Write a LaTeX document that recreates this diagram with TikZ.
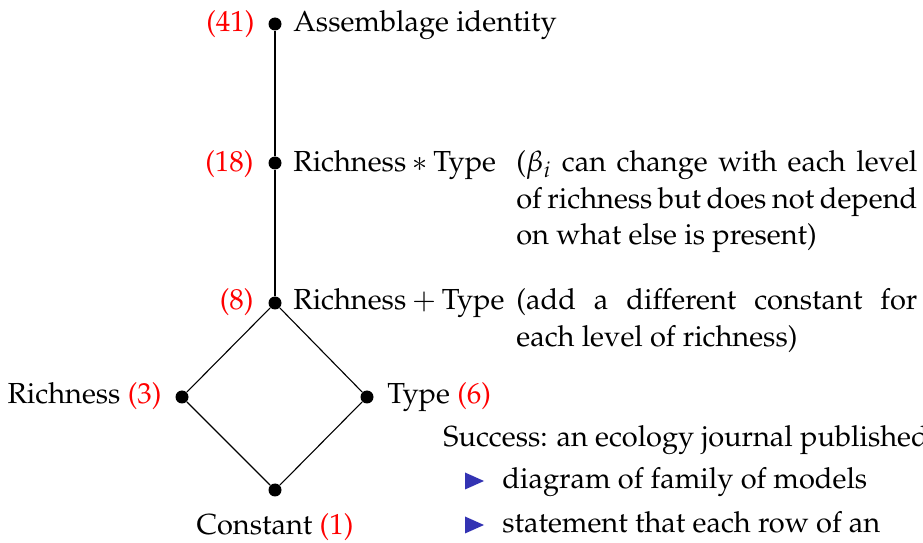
\documentclass[tikz,border=0pt]{standalone}
\usepackage[T1]{fontenc}
\usepackage{mathpazo}
\usepackage{tikz}
\definecolor{structblue}{RGB}{51,51,179}
\newcommand{\cnt}[1]{\textcolor{red}{(#1)}}

\begin{document}
\begin{tikzpicture}[x=0.5pt,y=0.5pt,
    dot/.style={circle,fill=black,inner sep=0pt,minimum size=6.5pt},
    lbl/.style={inner sep=0pt,font=\fontsize{14.5}{18.25}\selectfont},
    note/.style={lbl,text width=200.5pt,align=justify}]
    \useasboundingbox (0,0) rectangle (923,542);
    % the lattice of models
    \node[dot] (full)  at (275,518) {};
    \node[dot] (inter) at (275,379) {};
    \node[dot] (add)   at (275,239) {};
    \node[dot] (rich)  at (182,145) {};
    \node[dot] (type)  at (367,145) {};
    \node[dot] (const) at (275,52)  {};
    \draw[line width=0.55pt] (full) -- (inter) -- (add);
    \draw[line width=0.55pt] (add) -- (rich) -- (const) -- (type) -- (add);
    % labels
    \node[lbl,anchor=base east] (cfull)  at (255,510) {\cnt{41}};
    \node[lbl,anchor=base west] (lfull)  at (293,510) {Assemblage identity};
    \node[lbl,anchor=base east] (cinter) at (254,370) {\cnt{18}};
    \node[lbl,anchor=base west] (linter) at (293,370) {Richness${}*{}$Type};
    \node[lbl,anchor=base east] (cadd)   at (254,232) {\cnt{8}};
    \node[lbl,anchor=base west] (ladd)   at (293,232) {Richness${}+{}$Type};
    \node[lbl,anchor=base east] (lrich)  at (162,138) {Richness \cnt{3}};
    \node[lbl,anchor=base west] (ltype)  at (387,138) {Type \cnt{6}};
    \node[lbl,anchor=base]      (lconst) at (275,7)   {Constant \cnt{1}};
    % remarks
    \node[note,anchor=base west] (ninter) at (516,370)
      {($\beta_i$ can change with each level of richness but does not depend on what else is present)};
    \node[note,anchor=base west] (nadd) at (516,232)
      {(add a different constant for each level of richness)};
    % success list
    \node[lbl,anchor=base west] (succ) at (443,96) {Success: an ecology journal published};
    \foreach \y/\t [count=\k] in {61/diagram of family of models,17/statement that each row of an}
    {
      \fill[structblue] (465,\y+8.5) -- (484,\y) -- (465,\y-8.5) -- cycle;
      \node[lbl,anchor=base west] (item\k) at (502,\y-7) {\t};
    }
\end{tikzpicture}
\end{document}
